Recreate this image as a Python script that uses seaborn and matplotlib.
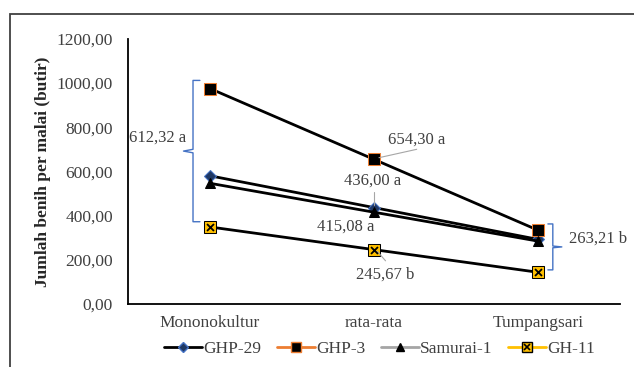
import matplotlib
matplotlib.use('Agg')
import matplotlib.pyplot as plt
import seaborn as sns
import pandas as pd
from matplotlib.lines import Line2D
from matplotlib.patches import Rectangle

sns.set_style('white')
plt.rcParams['font.family'] = ['Liberation Serif', 'DejaVu Serif']

# data
kategori = ['Mononokultur', 'rata-rata', 'Tumpangsari']
ghp29 = [580.00, 436.00, 292.00]
ghp3 = [975.00, 654.30, 333.60]
samurai1 = [546.00, 415.08, 284.16]
gh11 = [348.28, 245.67, 143.06]
rata_mono = '612,32 a'
rata_tump = '263,21 b'
yticks = [0, 200, 400, 600, 800, 1000, 1200]

fig = plt.figure(figsize=(6.34, 3.67), dpi=100)
ax = fig.add_axes([0.202, 0.172, 0.776, 0.722])

#%% garis
lw = 2.0
sns.lineplot(x=kategori, y=ghp29, color='black', lw=lw, marker='D', markersize=6,
             markerfacecolor='#1F3864', markeredgecolor='#4472C4', ax=ax, sort=False)
sns.lineplot(x=kategori, y=ghp3, color='black', lw=lw, marker='s', markersize=8,
             markerfacecolor='black', markeredgecolor='#ED7D31', ax=ax, sort=False)
sns.lineplot(x=kategori, y=samurai1, color='black', lw=lw, marker='^', markersize=7,
             markerfacecolor='black', markeredgecolor='black', ax=ax, sort=False)
sns.lineplot(x=kategori, y=gh11, color='black', lw=lw, marker='s', markersize=8,
             markerfacecolor='#FFC000', markeredgecolor='black', ax=ax, sort=False)
sns.scatterplot(x=kategori, y=gh11, marker='x', color='black', s=25, linewidth=1.3, ax=ax, zorder=5)

ax.set_xlim(-0.5, 2.5)
ax.set_ylim(0, 1200)
ax.set_yticks(yticks)
ax.set_yticklabels([f'{v:.2f}'.replace('.', ',') for v in yticks], fontsize=12.5, color='#404040')
ax.tick_params(axis='x', labelsize=12.5, colors='#404040', pad=8)
ax.tick_params(axis='y', pad=11)
ax.tick_params(length=0)
sns.despine(ax=ax)
for s in ['left', 'bottom']:
    ax.spines[s].set_color('black')
    ax.spines[s].set_linewidth(1.3)
ax.set_ylabel('Jumlah benih per malai (butir)', fontsize=12.5, fontweight='bold', labelpad=4)
ax.set_xlabel('')

#%% kurung kurawal
bc = '#4472C4'
ax.plot([-0.062, -0.104, -0.104, -0.162, -0.104, -0.104, -0.062],
        [1012, 1012, 700, 692, 684, 372, 372], color=bc, lw=1)
ax.plot([2.06, 2.09, 2.09, 2.145, 2.09, 2.09, 2.06],
        [362, 362, 262, 258, 254, 154, 154], color=bc, lw=1)
ax.text(-0.148, 752, rata_mono, ha='right', va='center', fontsize=12, color='#404040')
ax.text(2.19, 294, rata_tump, ha='left', va='center', fontsize=12, color='#404040')

#%% label rata-rata
lc = '#A6A6A6'
ax.text(1.26, 743, '654,30 a', ha='center', va='center', fontsize=12, color='#404040')
ax.plot([1.03, 1.26], [662, 700], color=lc, lw=0.8)
ax.text(0.99, 557, '436,00 a', ha='center', va='center', fontsize=12, color='#404040')
ax.plot([1.0, 1.0], [446, 505], color=lc, lw=0.8)
ax.text(0.83, 349, '415,08 a', ha='center', va='center', fontsize=12, color='#404040')
ax.text(1.07, 131, '245,67 b', ha='center', va='center', fontsize=12, color='#404040')
ax.plot([1.02, 1.07], [238, 195], color=lc, lw=0.8)

#%% legenda
h1 = Line2D([], [], color='black', lw=2, marker='D', markersize=5,
            markerfacecolor='#1F3864', markeredgecolor='#4472C4')
h2 = Line2D([], [], color='#ED7D31', lw=2, marker='s', markersize=7,
            markerfacecolor='black', markeredgecolor='#ED7D31')
h3 = Line2D([], [], color='#A5A5A5', lw=2, marker='^', markersize=6,
            markerfacecolor='black', markeredgecolor='black')
h4a = Line2D([], [], color='#FFC000', lw=2, marker='s', markersize=7,
             markerfacecolor='#FFC000', markeredgecolor='black')
h4b = Line2D([], [], color='none', marker='x', markersize=5, markeredgecolor='black', mew=1.2)
fig.legend([h1, h2, h3, (h4a, h4b)], ['GHP-29', 'GHP-3', 'Samurai-1', 'GH-11'],
           loc='center left', bbox_to_anchor=(0.245, 0.048), ncol=4, frameon=False,
           fontsize=12.5, handlelength=2.2, handletextpad=0.05, columnspacing=0.9,
           borderpad=0, labelcolor='#404040')

# bingkai luar
fig.add_artist(Rectangle((0.016, -0.1), 1.2, 1.062, transform=fig.transFigure,
                         fill=False, edgecolor='#404040', lw=1.3))

fig.savefig('out.png', dpi=100)
